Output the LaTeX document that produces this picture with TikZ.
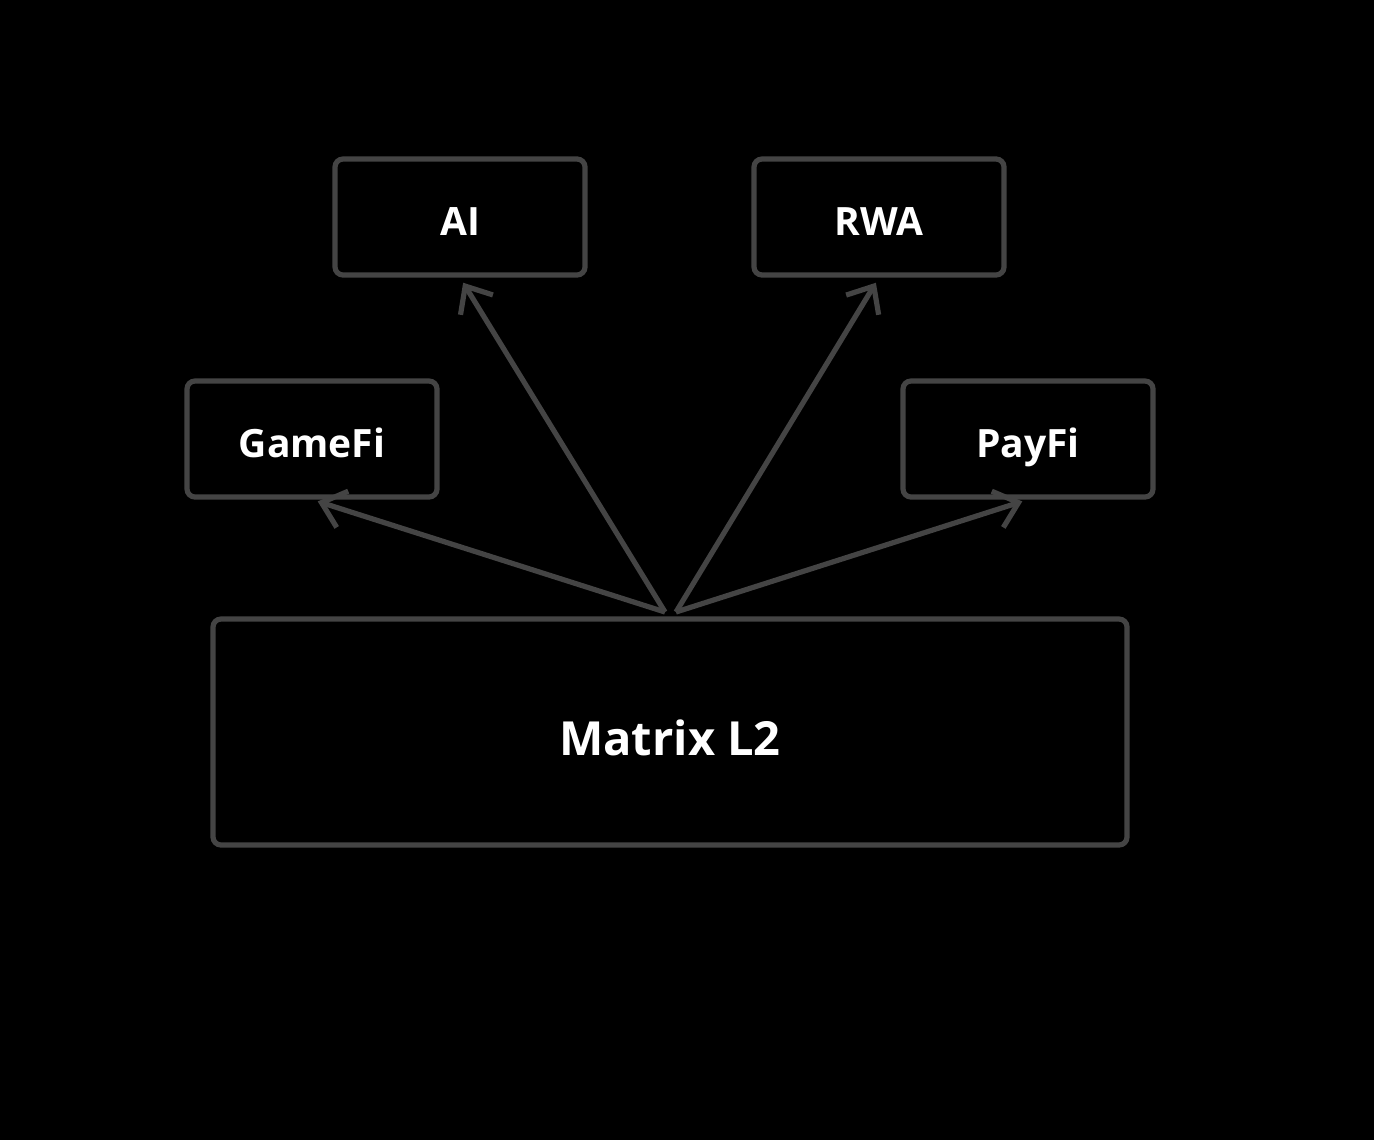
\documentclass[tikz,border=0pt]{standalone}
\usepackage{fontspec}
\setmainfont{Open Sans}
\usetikzlibrary{arrows.meta}
\definecolor{edge}{HTML}{444444}
\tikzset{
  box/.style={draw=edge, line width=2.6pt, rounded corners=4pt, text=white, font=\bfseries\fontsize{19.5}{24}\selectfont, inner sep=0pt, text height=18pt, text depth=0pt},
  small/.style={box, minimum width=125pt, minimum height=58pt},
  link/.style={draw=edge, line width=2.6pt, -{Straight Barb[length=11pt,width=19pt,line width=2.6pt]}, shorten >=3pt}
}
\begin{document}
\begin{tikzpicture}[x=0.5pt,y=-0.5pt]
\fill[black] (0,0) rectangle (1374,1140);
\useasboundingbox (0,0) rectangle (1374,1140);
\node[small] (ai) at (460,217) {AI};
\node[small] (rwa) at (879,217) {RWA};
\node[small] (gamefi) at (312,439) {GameFi};
\node[small] (payfi) at (1028,439) {PayFi};
\node[box, minimum width=457pt, minimum height=113pt, text height=23pt, font=\bfseries\fontsize{23.5}{28}\selectfont] (matrix) at (670,732) {Matrix L2};
\coordinate (s1) at (665,612);
\coordinate (s2) at (676,612);
\draw[link] (s1) -- (gamefi.south);
\draw[link] (s1) -- (ai.south);
\draw[link] (s2) -- (rwa.south);
\draw[link] (s2) -- (payfi.south);
\end{tikzpicture}
\end{document}
